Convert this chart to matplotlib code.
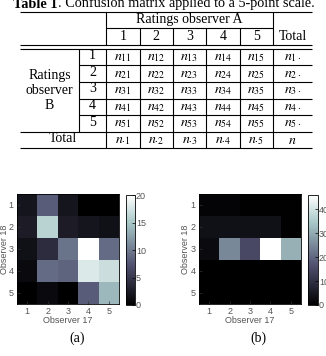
import matplotlib
matplotlib.use('Agg')
import matplotlib.pyplot as plt
import numpy as np

plt.rcParams.update({
    'mathtext.fontset': 'stix',
    'font.family': 'Liberation Sans',
})

SERIF = 'Liberation Serif'
TICK_GREY = '#555555'

# ── Table content ─────
title_bold = 'Table 1'
title_rest = '. Confusion matrix applied to a 5-point scale.'
scale_labels = ['1', '2', '3', '4', '5']
row_header = 'Ratings\nobserver\nB'
col_header = 'Ratings observer A'
row_totals = [r'$n_{1\cdot}$', r'$n_{2\cdot}$', r'$n_{3\cdot}$', r'$n_{4\cdot}$', r'$n_{5\cdot}$']
col_totals = [r'$n_{\cdot 1}$', r'$n_{\cdot 2}$', r'$n_{\cdot 3}$', r'$n_{\cdot 4}$', r'$n_{\cdot 5}$']
grand_total = r'$n$'

# ── Heatmap values (rows: Observer 18, cols: Observer 17) ─────
counts_a = np.array([
    [2.0, 8.0, 2.0, 0.0, 0.0],
    [2.5, 16.0, 2.5, 2.0, 1.5],
    [1.5, 4.0, 9.5, 20.0, 9.0],
    [1.0, 9.0, 8.5, 18.0, 17.0],
    [0.0, 1.0, 0.0, 8.0, 14.0],
])
counts_b = np.array([
    [1.0, 1.0, 0.5, 0.5, 0.5],
    [3.5, 3.5, 3.5, 3.5, 0.5],
    [2.5, 25.0, 15.0, 46.0, 31.0],
    [0.0, 0.0, 0.0, 0.0, 0.0],
    [0.0, 0.0, 0.0, 0.0, 0.0],
])
ticks_a = [0, 5, 10, 15, 20]
ticks_b = [0, 10, 20, 30, 40]

W, H = 326, 356
fig = plt.figure(figsize=(W / 100, H / 100), dpi=100, facecolor='white')

# table drawn in pixel coordinates
ax_t = fig.add_axes([0, 0, 1, 1])
ax_t.set_xlim(0, W)
ax_t.set_ylim(H, 0)
ax_t.axis('off')

x_left, x_rowsep, x_right = 20, 79, 312
col_edges = [106, 139.5, 173, 206, 239.5, 273]
y_top, y_mid, y_head, y_head2 = 12.3, 27.7, 45.3, 48.8
row_h = 16.6
row_edges = [y_head2 + row_h * k for k in range(7)]
lw = 0.8
kw = dict(color='black', lw=lw, solid_capstyle='butt')

ax_t.plot([x_left, x_right], [y_top, y_top], **kw)
ax_t.plot([col_edges[0], col_edges[-1]], [y_mid, y_mid], **kw)
ax_t.plot([x_left, x_right], [y_head, y_head], **kw)
ax_t.plot([x_left, x_right], [y_head2, y_head2], **kw)
for x in [col_edges[0], col_edges[-1]]:
    ax_t.plot([x, x], [y_top, y_head], **kw)
for x in col_edges[1:-1]:
    ax_t.plot([x, x], [y_mid, y_head], **kw)
for y in row_edges[1:5]:
    ax_t.plot([x_rowsep, x_right], [y, y], **kw)
for y in row_edges[5:]:
    ax_t.plot([x_left, x_right], [y, y], **kw)
ax_t.plot([x_rowsep, x_rowsep], [row_edges[0], row_edges[5]], **kw)
for x in col_edges:
    ax_t.plot([x, x], [row_edges[0], row_edges[6]], **kw)

fs = 10
col_centers = [(col_edges[i] + col_edges[i + 1]) / 2 for i in range(5)]
total_x = (col_edges[-1] + x_right) / 2
t = ax_t.text(13, 7.5, title_bold, fontfamily=SERIF, fontweight='bold', fontsize=10.3,
              ha='left', va='baseline')
fig.canvas.draw()
bb = t.get_window_extent()
ax_t.text(bb.x1 / fig.dpi * 100 + 0.3, 7.5, title_rest, fontfamily=SERIF, fontsize=10.3,
          ha='left', va='baseline')
ax_t.text((col_edges[0] + col_edges[-1]) / 2, (y_top + y_mid) / 2, col_header,
          fontfamily=SERIF, fontsize=fs, ha='center', va='center')
for cx, lab in zip(col_centers, scale_labels):
    ax_t.text(cx, (y_mid + y_head) / 2, lab, fontfamily=SERIF, fontsize=fs, ha='center', va='center')
ax_t.text(total_x, 36, 'Total', fontfamily=SERIF, fontsize=fs, ha='center', va='center')
ax_t.text((x_left + x_rowsep) / 2, (row_edges[0] + row_edges[5]) / 2, row_header,
          fontfamily=SERIF, fontsize=fs, ha='center', va='center', linespacing=1.2)
for i in range(5):
    cy = (row_edges[i] + row_edges[i + 1]) / 2
    ax_t.text((x_rowsep + col_edges[0]) / 2, cy - 1.5, scale_labels[i], fontfamily=SERIF,
              fontsize=fs, ha='center', va='center')
    for j in range(5):
        ax_t.text(col_centers[j], cy, r'$n_{%s%s}$' % (scale_labels[i], scale_labels[j]),
                  fontsize=fs, ha='center', va='center')
    ax_t.text(total_x, cy, row_totals[i], fontsize=fs, ha='center', va='center')
cy = (row_edges[5] + row_edges[6]) / 2
ax_t.text((x_left + col_edges[0]) / 2, cy - 1.5, 'Total', fontfamily=SERIF, fontsize=fs,
          ha='center', va='center')
for cx, lab in zip(col_centers, col_totals):
    ax_t.text(cx, cy, lab, fontsize=fs, ha='center', va='center')
ax_t.text(total_x, cy, grand_total, fontsize=fs, ha='center', va='center')


# ── Heatmaps ─────
def px_axes(x0, y0, x1, y1):
    return fig.add_axes([x0 / W, (H - y1) / H, (x1 - x0) / W, (y1 - y0) / H])


def heatmap(ax, cax, data, vmax, cticks, tag, tag_x, ylab_x):
    im = ax.imshow(data, cmap='bone', vmin=0, vmax=vmax, aspect='auto',
                   interpolation='nearest', extent=[0.5, 5.5, 5.5, 0.5])
    ax.set_xticks(range(1, 6))
    ax.set_yticks(range(1, 6))
    ax.set_xticklabels(scale_labels)
    ax.set_yticklabels(scale_labels)
    ax.tick_params(direction='in', length=2, width=0.5, labelsize=6.5, labelcolor=TICK_GREY,
                   pad=2.5, color='#333333')
    ax.set_xlabel('Observer 17', fontsize=6.5, color=TICK_GREY, labelpad=0)
    ax.set_ylabel('Observer 18', fontsize=6.5, color=TICK_GREY)
    ax.yaxis.set_label_coords(ylab_x, 0.5)
    for s in ax.spines.values():
        s.set_linewidth(0.6)
    cb = fig.colorbar(im, cax=cax, ticks=cticks)
    cb.ax.tick_params(direction='in', length=2, width=0.5, labelsize=6.5, labelcolor=TICK_GREY,
                      pad=1)
    cb.outline.set_linewidth(0.6)
    fig.text(tag_x / W, (H - 338) / H, tag, fontfamily=SERIF, fontsize=10, ha='center', va='center')


ax_a = px_axes(17, 194, 119, 304)
cax_a = px_axes(126, 195, 134.5, 305)
heatmap(ax_a, cax_a, counts_a, 20, ticks_a, '(a)', 77, -0.08)

ax_b = px_axes(199, 194, 301, 304)
cax_b = px_axes(308, 195, 317.5, 305)
heatmap(ax_b, cax_b, counts_b, 46, ticks_b, '(b)', 258, -0.088)

fig.savefig('out.png', dpi=100, facecolor='white')
